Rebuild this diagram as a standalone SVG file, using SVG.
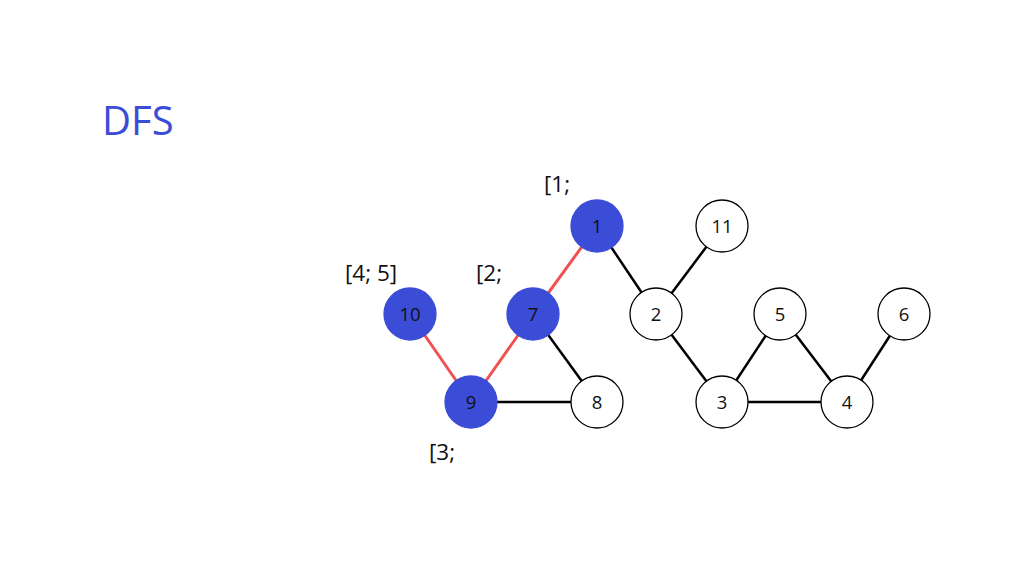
<svg xmlns="http://www.w3.org/2000/svg" width="1024" height="574" viewBox="0 0 1024 574">
<style>
.t{font-family:"Open Sans","Noto Sans",sans-serif;}
.title{font-size:40px;fill:#3b4cd6;}
.lbl{font-size:22.5px;fill:#111;}
.n circle{stroke:#000;stroke-width:1.3;fill:#fff;}
.n.v circle{fill:#3b4cd6;stroke:#3b4cd6;}
.n text{font-family:"Open Sans","Noto Sans",sans-serif;font-size:18.5px;fill:#111;text-anchor:middle;}
.e{stroke:#000;stroke-width:2.5;}
.r{stroke:#f05252;stroke-width:3;}
</style>
<rect width="1024" height="574" fill="#fff"/>
<text class="t title" x="102" y="135">DFS</text>
<g id="connectors">
<line class="e" x1="597" y1="226" x2="656" y2="314"/>
<line class="e" x1="722" y1="226" x2="656" y2="314"/>
<line class="e" x1="656" y1="314" x2="722" y2="402"/>
<line class="e" x1="722" y1="402" x2="780" y2="314"/>
<line class="e" x1="780" y1="314" x2="847" y2="402"/>
<line class="e" x1="722" y1="402" x2="847" y2="402"/>
<line class="e" x1="847" y1="402" x2="904" y2="314"/>
<line class="e" x1="533" y1="314" x2="597" y2="402"/>
<line class="e" x1="471" y1="402" x2="597" y2="402"/>
<line class="r" x1="597" y1="226" x2="533" y2="314"/>
<line class="r" x1="533" y1="314" x2="471" y2="402"/>
<line class="r" x1="410" y1="314" x2="471" y2="402"/>
</g>
<g id="node1" class="n v"><circle cx="597" cy="226" r="26"/><text x="597" y="232.5">1</text></g>
<g id="node11" class="n"><circle cx="722" cy="226" r="26"/><text x="722" y="232.5">11</text></g>
<g id="node2" class="n"><circle cx="656" cy="314" r="26"/><text x="656" y="320.5">2</text></g>
<g id="node5" class="n"><circle cx="780" cy="314" r="26"/><text x="780" y="320.5">5</text></g>
<g id="node6" class="n"><circle cx="904" cy="314" r="26"/><text x="904" y="320.5">6</text></g>
<g id="node10" class="n v"><circle cx="410" cy="314" r="26"/><text x="410" y="320.5">10</text></g>
<g id="node7" class="n v"><circle cx="533" cy="314" r="26"/><text x="533" y="320.5">7</text></g>
<g id="node9" class="n v"><circle cx="471" cy="402" r="26"/><text x="471" y="408.5">9</text></g>
<g id="node8" class="n"><circle cx="597" cy="402" r="26"/><text x="597" y="408.5">8</text></g>
<g id="node3" class="n"><circle cx="722" cy="402" r="26"/><text x="722" y="408.5">3</text></g>
<g id="node4" class="n"><circle cx="847" cy="402" r="26"/><text x="847" y="408.5">4</text></g>
<g id="labels">
<text class="t lbl" x="544" y="192">[1;</text>
<text class="t lbl" x="345" y="281">[4; 5]</text>
<text class="t lbl" x="476" y="281">[2;</text>
<text class="t lbl" x="429" y="460">[3;</text>
</g>
</svg>
